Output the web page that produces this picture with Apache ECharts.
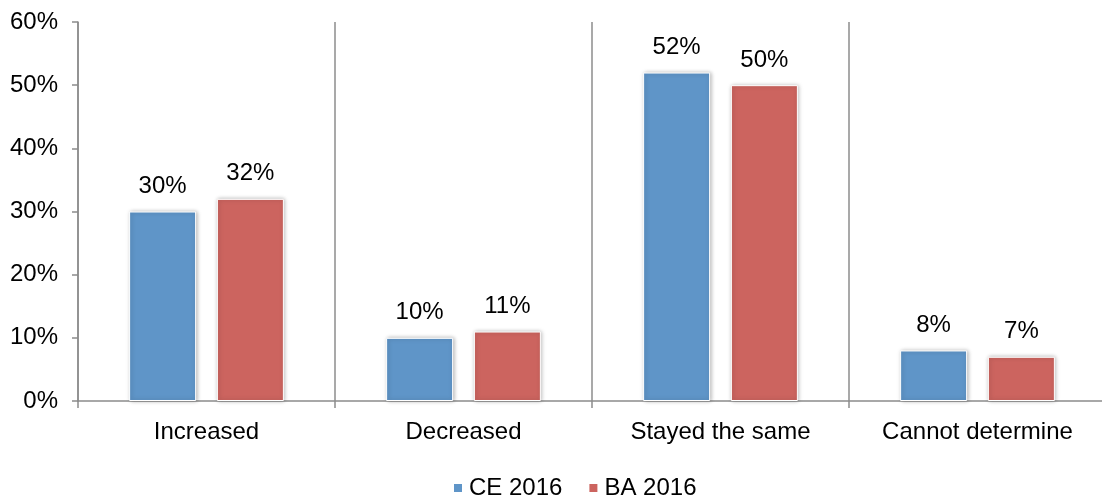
<!DOCTYPE html>
<html>
<head>
<meta charset="utf-8">
<script src="https://cdn.jsdelivr.net/npm/echarts@6/dist/echarts.min.js"></script>
<style>
  html, body { margin: 0; padding: 0; background: #fff; }
  #chart { width: 1102px; height: 498px; }
</style>
</head>
<body>
<div id="chart"></div>
<script>
// Categories, series values and y-axis ticks
const categories = ['Increased', 'Decreased', 'Stayed the same', 'Cannot determine'];
const ce2016 = [30, 10, 52, 8];
const ba2016 = [32, 11, 50, 7];
const yTicks = [0, 10, 20, 30, 40, 50, 60];

const FONT = '"Liberation Sans", Arial, sans-serif';
const FS = 24;
const AXIS_GRAY = '#8c8c8c';

function barSeries(name, data, color) {
  return {
    name: name,
    type: 'bar',
    data: data,
    barWidth: 67,
    barGap: '31%',
    itemStyle: {
      color: color,
      borderColor: '#ffffff',
      borderWidth: 1,
      shadowColor: 'rgba(0,0,0,0.28)',
      shadowBlur: 4,
      shadowOffsetX: 1,
      shadowOffsetY: 0
    },
    label: {
      show: true,
      position: 'top',
      distance: 13,
      formatter: p => p.value + '%',
      fontFamily: FONT,
      fontSize: FS,
      color: '#000'
    }
  };
}

const chart = echarts.init(document.getElementById('chart'), null, { renderer: 'canvas' });
chart.setOption({
  animation: false,
  textStyle: { fontFamily: FONT },
  // plot runs slightly past the right edge so its closing boundary line is not drawn
  grid: { left: 78, top: 22, width: 1028, height: 379, containLabel: false, outerBoundsMode: 'none' },
  legend: {
    top: 471,
    left: 447,
    itemWidth: 10,
    itemHeight: 10,
    itemGap: 25,
    icon: 'rect',
    textStyle: { fontFamily: FONT, fontSize: FS, color: '#000', padding: [0, 0, 0, 1] },
    data: ['CE 2016', 'BA 2016']
  },
  xAxis: {
    type: 'category',
    data: categories,
    axisLine: { show: true, lineStyle: { color: AXIS_GRAY, width: 1.5 } },
    axisTick: { show: true, length: 7, interval: 0, lineStyle: { color: AXIS_GRAY, width: 1.5 } },
    splitLine: { show: true, interval: 0, lineStyle: { color: AXIS_GRAY, width: 1.5 } },
    axisLabel: { fontFamily: FONT, fontSize: FS, color: '#000', margin: 19, interval: 0 }
  },
  yAxis: {
    type: 'value',
    min: yTicks[0],
    max: yTicks[yTicks.length - 1],
    interval: 10,
    axisLine: { show: true, lineStyle: { color: AXIS_GRAY, width: 1.5 } },
    axisTick: { show: true, length: 6, lineStyle: { color: AXIS_GRAY, width: 1.5 } },
    splitLine: { show: false },
    axisLabel: { fontFamily: FONT, fontSize: FS, color: '#000', margin: 20, formatter: v => v + '%' }
  },
  series: [
    barSeries('CE 2016', ce2016, '#5f95c8'),
    barSeries('BA 2016', ba2016, '#cc645f')
  ]
});
</script>
</body>
</html>
